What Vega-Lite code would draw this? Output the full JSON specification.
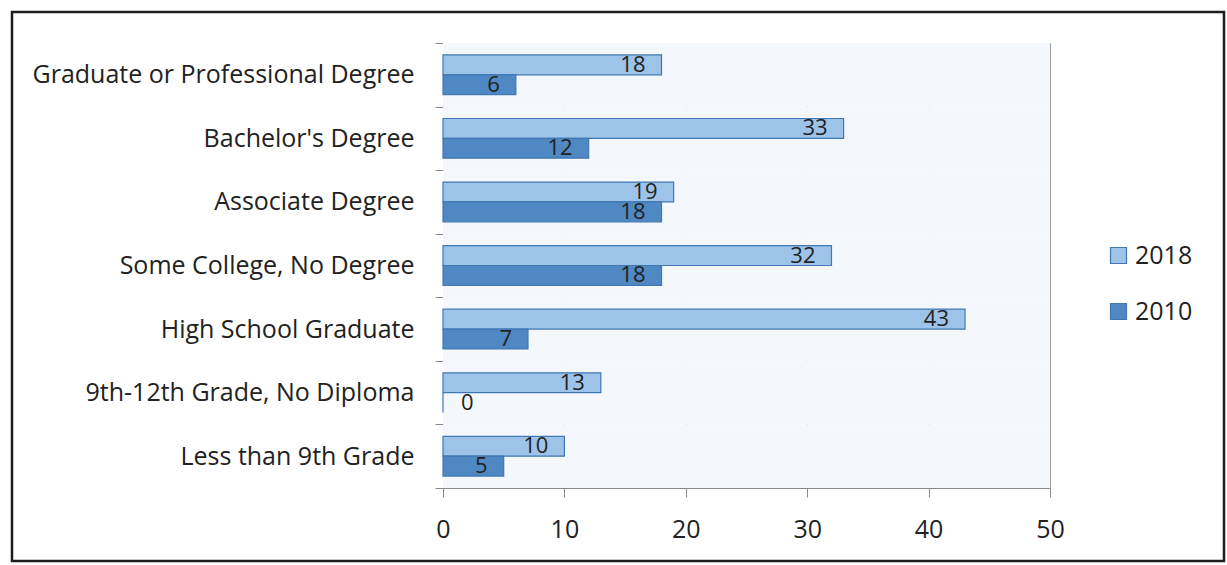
{
  "$schema": "https://vega.github.io/schema/vega-lite/v6.json",
  "width": 1212,
  "height": 549,
  "autosize": {"type": "none"},
  "padding": {"left": 12, "top": 12, "right": 3, "bottom": 4},
  "background": "white",
  "config": {
    "font": "Open Sans",
    "view": {"stroke": "#1e1e1e", "strokeWidth": 2.5, "fill": "white"}
  },
  "data": {
    "values": [
      {"cat": "Graduate or Professional Degree", "year": "2018", "value": 18},
      {"cat": "Graduate or Professional Degree", "year": "2010", "value": 6},
      {"cat": "Bachelor's Degree", "year": "2018", "value": 33},
      {"cat": "Bachelor's Degree", "year": "2010", "value": 12},
      {"cat": "Associate Degree", "year": "2018", "value": 19},
      {"cat": "Associate Degree", "year": "2010", "value": 18},
      {"cat": "Some College, No Degree", "year": "2018", "value": 32},
      {"cat": "Some College, No Degree", "year": "2010", "value": 18},
      {"cat": "High School Graduate", "year": "2018", "value": 43},
      {"cat": "High School Graduate", "year": "2010", "value": 7},
      {"cat": "9th-12th Grade, No Diploma", "year": "2018", "value": 13},
      {"cat": "9th-12th Grade, No Diploma", "year": "2010", "value": 0},
      {"cat": "Less than 9th Grade", "year": "2018", "value": 10},
      {"cat": "Less than 9th Grade", "year": "2010", "value": 5}
    ]
  },
  "resolve": {"scale": {"x": "shared"}, "axis": {"x": "independent"}},
  "encoding": {
    "y": {
      "field": "cat",
      "type": "nominal",
      "sort": [
        "Graduate or Professional Degree",
        "Bachelor's Degree",
        "Associate Degree",
        "Some College, No Degree",
        "High School Graduate",
        "9th-12th Grade, No Diploma",
        "Less than 9th Grade"
      ],
      "scale": {"range": [31, 476], "paddingInner": 0, "paddingOuter": 0},
      "axis": {
        "title": null,
        "offset": -431,
        "tickBand": "extent",
        "tickSize": 8,
        "tickColor": "#8a8a8a",
        "domainColor": "#8a8a8a",
        "labelPadding": 21,
        "labelFontSize": 25,
        "labelColor": "#222222",
        "labelLimit": 0,
        "grid": false
      }
    },
    "x": {
      "field": "value",
      "type": "quantitative",
      "scale": {"domain": [0, 50], "range": [431, 1038], "nice": false},
      "axis": null
    }
  },
  "layer": [
    {
      "transform": [{"filter": "datum.year == '2018'"}],
      "mark": {"type": "bar", "fill": "#f4f8fc"},
      "encoding": {
        "x": {
          "datum": 0,
          "type": "quantitative",
          "axis": {
            "orient": "top",
            "offset": -31,
            "title": null,
            "values": [0, 10, 20, 30, 40, 50],
            "labels": false,
            "ticks": false,
            "domain": false,
            "grid": true,
            "gridColor": "#9a9a9a"
          }
        },
        "x2": {"datum": 50}
      }
    },
    {
      "mark": {"type": "bar", "stroke": "#3f78b4", "strokeWidth": 1.2},
      "encoding": {
        "x": {
          "field": "value",
          "type": "quantitative",
          "axis": {
            "orient": "bottom",
            "offset": -73,
            "title": null,
            "values": [0, 10, 20, 30, 40, 50],
            "tickSize": 9,
            "tickColor": "#8a8a8a",
            "domainColor": "#8a8a8a",
            "grid": false,
            "labelFlush": false,
            "labelPadding": 20,
            "labelFontSize": 25,
            "labelColor": "#222222"
          }
        },
        "yOffset": {
          "field": "year",
          "sort": ["2018", "2010"],
          "scale": {"paddingInner": 0, "paddingOuter": 0.6}
        },
        "color": {
          "field": "year",
          "type": "nominal",
          "sort": ["2018", "2010"],
          "scale": {"domain": ["2018", "2010"], "range": ["#9dc3e8", "#4f88c2"]},
          "legend": {
            "title": null,
            "orient": "none",
            "legendX": 1094,
            "legendY": 231,
            "padding": 0,
            "symbolType": "square",
            "symbolSize": 256,
            "symbolStrokeColor": "#3f78b4",
            "symbolStrokeWidth": 1.2,
            "symbolOpacity": 1,
            "labelFontSize": 25,
            "labelColor": "#222222",
            "labelOffset": 4,
            "rowPadding": 30
          }
        }
      }
    },
    {
      "transform": [{"filter": "datum.value > 0"}],
      "mark": {"type": "text", "align": "right", "baseline": "middle", "dx": -16, "fontSize": 22, "color": "#222222"},
      "encoding": {
        "yOffset": {"field": "year", "sort": ["2018", "2010"]},
        "text": {"field": "value", "type": "quantitative"}
      }
    },
    {
      "transform": [{"filter": "datum.value == 0"}],
      "mark": {"type": "text", "align": "left", "baseline": "middle", "dx": 18, "fontSize": 22, "color": "#222222"},
      "encoding": {
        "yOffset": {"field": "year", "sort": ["2018", "2010"]},
        "text": {"field": "value", "type": "quantitative"}
      }
    }
  ]
}
